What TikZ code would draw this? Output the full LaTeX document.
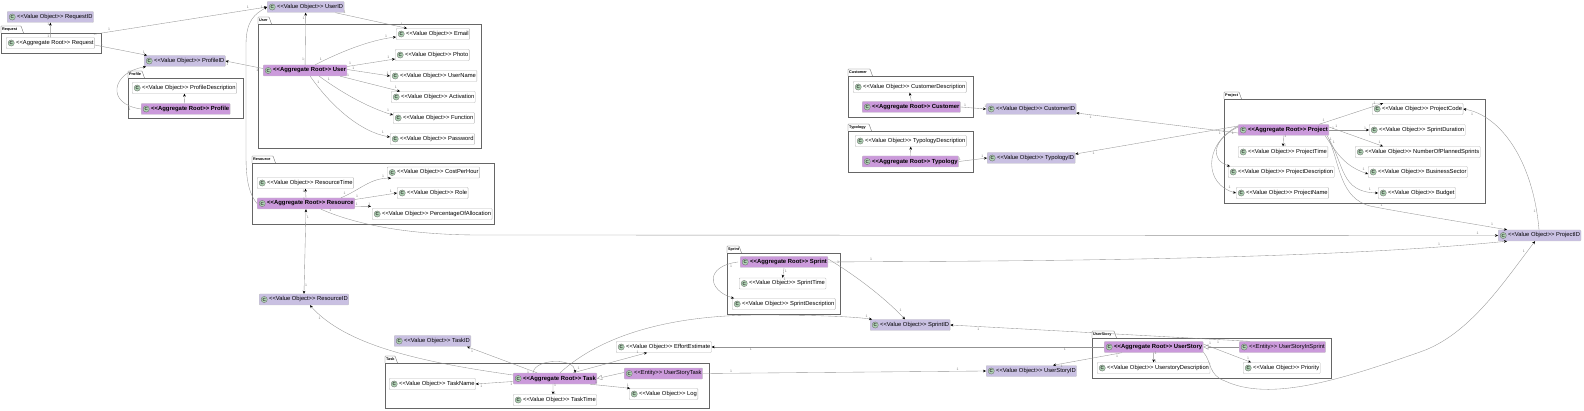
\documentclass[tikz,border=0pt]{standalone}
\usepackage{fontspec}
\setmainfont{Liberation Sans}
\usetikzlibrary{arrows.meta}

\definecolor{idfill}{HTML}{C9C0E2}
\definecolor{rootfill}{HTML}{CB9ADB}
\definecolor{iconfill}{HTML}{ADD1B2}

\newcommand{\valobj}{\hspace*{9pt}<{}<Value Object>{}>}
\newcommand{\aggroot}{\hspace*{9pt}<{}<Aggregate Root>{}>}
\newcommand{\entity}{\hspace*{9pt}<{}<Entity>{}>}

\tikzset{
  cbox/.style={anchor=west,rounded corners=0.8pt,inner xsep=1pt,inner ysep=0pt,
    minimum height=11pt,font=\fontsize{5.8}{7}\selectfont,
    path picture={
      \fill[iconfill,draw=gray!80!black,line width=.3pt]
        ([xshift=5pt]path picture bounding box.west) circle (3.1pt);
      \node[anchor=center,inner sep=0pt,
        font=\fontsize{4.5}{5}\bfseries\selectfont,text=black!80]
        at ([xshift=5pt]path picture bounding box.west) {C};
    }},
  valuebox/.style={cbox,draw=gray!55,fill=white},
  idbox/.style={cbox,draw=gray!45,fill=idfill},
  rootbox/.style={cbox,draw=gray!45,fill=rootfill,font=\fontsize{5.9}{7}\bfseries\selectfont},
  entitybox/.style={cbox,draw=gray!45,fill=rootfill},
  pkg/.style={draw=black!60,line width=.5pt},
  pkgname/.style={anchor=west,inner sep=0pt,font=\fontsize{3.8}{4}\bfseries\selectfont},
  link/.style={draw=gray!85,line width=.35pt,-{Stealth[length=3pt,width=2.6pt,black]}},
  extends/.style={draw=gray!85,line width=.35pt,-{Triangle[open,length=5pt,width=5pt,fill=white]}},
  one/.style={auto,inner sep=.8pt,font=\fontsize{3.5}{4}\selectfont,text=gray},
  ea/.style={one,pos=.1},
  eb/.style={one,pos=.9}
}

\begin{document}
\begin{tikzpicture}[x=1pt,y=-1pt]
\useasboundingbox (0,0) rectangle (1584,411);

% Packages
\foreach \nm/\xa/\ya/\xb/\yb/\tw in {
  Request/1/33/101/53/20, Profile/128/78/243/118/14, User/258/24/481/148/11,
  Resource/252/163/494/224/21, Task/385/363/709/408/10, Sprint/727/253/840/314/12,
  Customer/848/76/973/117/22, Typology/848/131/973/172/21, Project/1224/99/1485/203/15,
  UserStory/1092/338/1331/378/22}
{
  \draw[pkg] (\xa,\ya) rectangle (\xb,\yb);
  \draw[pkg,line width=.35pt,rounded corners=.5pt] (\xa,\ya) -- ++(0,-7) -- ++(\tw,0) -- ++(2.5,7);
  \node[pkgname] (tab\nm) at ({\xa+1},{\ya-3.4}) {\nm};
}

% Request and Profile
\node[idbox] (requestid) at (7,17) {\valobj{} RequestID};
\node[valuebox] (request) at (6,43) {\aggroot{} Request};
\node[idbox] (profileid) at (144,61) {\valobj{} ProfileID};
\node[valuebox] (profiledesc) at (132,88) {\valobj{} ProfileDescription};
\node[rootbox] (profile) at (141,109) {\aggroot{} Profile};

% User
\node[idbox] (userid) at (267,7) {\valobj{} UserID};
\node[rootbox] (user) at (263,70.5) {\aggroot{} User};
\node[valuebox] (email) at (396,34) {\valobj{} Email};
\node[valuebox] (photo) at (395,55) {\valobj{} Photo};
\node[valuebox] (username) at (390,76) {\valobj{} UserName};
\node[valuebox] (activation) at (391,97) {\valobj{} Activation};
\node[valuebox] (function) at (393,118) {\valobj{} Function};
\node[valuebox] (password) at (390,139) {\valobj{} Password};

% Resource
\node[valuebox] (costperhour) at (387,172.5) {\valobj{} CostPerHour};
\node[valuebox] (resourcetime) at (257,183) {\valobj{} ResourceTime};
\node[valuebox] (role) at (397,193) {\valobj{} Role};
\node[rootbox] (resource) at (257,203.5) {\aggroot{} Resource};
\node[valuebox] (percentage) at (372,214) {\valobj{} PercentageOfAllocation};
\node[idbox] (resourceid) at (259,299.5) {\valobj{} ResourceID};

% Task
\node[idbox] (taskid) at (394,341) {\valobj{} TaskID};
\node[valuebox] (effort) at (616,347) {\valobj{} EffortEstimate};
\node[rootbox] (task) at (513,378.5) {\aggroot{} Task};
\node[entitybox] (storytask) at (624,373.5) {\entity{} UserStoryTask};
\node[valuebox] (taskname) at (389,384) {\valobj{} TaskName};
\node[valuebox] (tasktime) at (513,400) {\valobj{} TaskTime};
\node[valuebox] (log) at (629,394) {\valobj{} Log};

% Sprint
\node[rootbox] (sprint) at (740,262) {\aggroot{} Sprint};
\node[valuebox] (sprinttime) at (739,283.5) {\valobj{} SprintTime};
\node[valuebox] (sprintdesc) at (732,304) {\valobj{} SprintDescription};
\node[idbox] (sprintid) at (870,325) {\valobj{} SprintID};

% Customer and Typology
\node[valuebox] (customerdesc) at (853,87) {\valobj{} CustomerDescription};
\node[rootbox] (customer) at (862,107) {\aggroot{} Customer};
\node[idbox] (customerid) at (986,109) {\valobj{} CustomerID};
\node[valuebox] (typologydesc) at (855,141) {\valobj{} TypologyDescription};
\node[rootbox] (typology) at (862,161.5) {\aggroot{} Typology};
\node[idbox] (typologyid) at (987,158) {\valobj{} TypologyID};

% Project
\node[valuebox] (projectcode) at (1372,109) {\valobj{} ProjectCode};
\node[rootbox] (project) at (1238,130) {\aggroot{} Project};
\node[valuebox] (duration) at (1369,130) {\valobj{} SprintDuration};
\node[valuebox] (projecttime) at (1238,152) {\valobj{} ProjectTime};
\node[valuebox] (planned) at (1355,152) {\valobj{} NumberOfPlannedSprints};
\node[valuebox] (projectdesc) at (1228,172) {\valobj{} ProjectDescription};
\node[valuebox] (sector) at (1368,172) {\valobj{} BusinessSector};
\node[valuebox] (projectname) at (1236,193) {\valobj{} ProjectName};
\node[valuebox] (budget) at (1378,193) {\valobj{} Budget};
\node[idbox] (projectid) at (1498,235.5) {\valobj{} ProjectID};

% UserStory
\node[rootbox] (story) at (1104,347) {\aggroot{} UserStory};
\node[entitybox] (storysprint) at (1239,347) {\entity{} UserStoryInSprint};
\node[valuebox] (storydesc) at (1097,368) {\valobj{} UserstoryDescription};
\node[valuebox] (priority) at (1243,368) {\valobj{} Priority};
\node[idbox] (storyid) at (986,371) {\valobj{} UserStoryID};

% Request and Profile links
\draw[link] (request.north) -- node[ea]{1} node[eb]{1} (requestid.south);
\draw[link] ([xshift=-1pt,yshift=3pt]request.north east) -- node[ea]{1} node[eb]{1} (userid.west);
\draw[link] ([yshift=-2pt]request.east) -- node[ea]{1} node[eb]{1} ([xshift=3pt]profileid.north west);
\draw[link] (profile.west) .. controls (105,104) and (112,72) .. node[ea]{1} ([xshift=2pt]profileid.south west);
\draw[link] ([xshift=-1pt]profile.north) -- (profiledesc.south);

% User links
\draw[link] ([yshift=2pt]user.west) -- node[ea]{1} node[eb]{1} (profileid.east);
\draw[link] (user.north) -- node[ea]{1} node[eb]{1} (userid.south);
\draw[link] ([xshift=-9pt]userid.south east) -- node[ea]{1} node[eb]{1} ([xshift=11pt]email.north west);
\draw[link] ([xshift=-32pt]user.north east) .. controls (340,52) and (370,40) .. node[ea]{1} node[eb]{1} ([yshift=-3pt]email.west);
\draw[link] ([yshift=4pt]user.east) -- node[ea]{1} node[eb]{1} ([yshift=-4pt]photo.west);
\draw[link] ([yshift=1pt]user.east) -- node[ea]{1} node[eb]{1} (username.west);
\draw[link] ([xshift=-7pt]user.south east) -- node[ea]{1} node[eb]{1} ([xshift=9pt]activation.north west);
\draw[link] ([xshift=-28pt]user.south east) .. controls (345,95) and (370,108) .. node[ea]{1} node[eb]{1} ([yshift=3pt]function.west);
\draw[link] ([xshift=-37pt]user.south east) .. controls (330,105) and (360,132) .. node[ea]{1} node[eb]{1} ([yshift=2pt]password.west);

% Resource links
\draw[link] (resource.west) .. controls (246,190) and (246,170) .. (246,150) -- (246,45)
  .. controls (246,20) and (255,14) .. node[eb]{1} (userid.west);
\draw[link] (resource.north) -- node[ea]{1} node[eb]{1} (resourcetime.south);
\draw[link] ([xshift=-14pt]resource.north east) .. controls (360,190) and (370,178) .. node[ea]{1} node[eb]{1} ([xshift=4pt]costperhour.south west);
\draw[link] ([yshift=4pt]resource.east) -- node[ea]{1} node[eb]{1} (role.west);
\draw[link] ([yshift=-3pt]resource.east) -- node[ea]{1} node[eb]{1} ([yshift=2pt,xshift=-1pt]percentage.north west);
\draw[link,{Stealth[length=3pt,width=2.6pt,black]}-{Stealth[length=3pt,width=2.6pt,black]}] (resource.south) -- node[ea]{1} node[eb]{1} (resourceid.north);
\draw[link] ([xshift=-34pt]resource.south east) .. controls (350,222) and (400,235) .. node[one,pos=.08]{1} (480,235) -- node[one,pos=.98]{1} (projectid.west);

% Task links
\draw[link] ([yshift=3.5pt]task.west) .. controls (420,362) and (345,345) .. node[eb]{1} ([xshift=6pt]resourceid.south);
\draw[link] ([xshift=24pt]task.north west) -- node[ea]{1} node[eb]{1} ([xshift=-4pt]taskid.south east);
\draw[link] ([xshift=-24pt]task.north east) -- node[ea]{1} node[eb]{1} ([xshift=31pt]effort.south west);
\draw[link] ([xshift=20pt]task.north west) .. controls (535,358) and (575,358) .. ([xshift=-22pt]task.north east);
\draw[link] ([xshift=-37pt]task.north east) .. controls (590,345) and (650,315) .. (760,315) .. controls (800,315) and (850,316) .. node[eb]{1} ([xshift=2pt]sprintid.north west);
\draw[link] ([yshift=-3pt]task.west) -- node[ea]{1} node[eb]{1} (taskname.east);
\draw[link] ([xshift=-2pt]task.south) -- node[ea]{1} node[eb]{1} ([xshift=-2pt]tasktime.north);
\draw[link] ([xshift=-7pt]task.south east) -- node[ea]{1} node[eb]{1} ([xshift=1pt]log.north west);
\draw[extends] ([yshift=1pt]storytask.west) -- (task.east);
\draw[link] (storytask.east) -- node[ea]{1} node[eb]{1} (storyid.west);

% Sprint links
\draw[link] (sprint.south) -- node[ea]{1} node[eb]{1} (sprinttime.north);
\draw[link] ([xshift=-2pt]sprint.west) .. controls (705,266) and (707,290) .. node[ea]{1} ([xshift=2pt]sprintdesc.north west);
\draw[link] (sprint.east) .. controls (950,261) and (1300,262) .. node[ea]{1} node[eb]{1} ([xshift=9pt,yshift=0pt]projectid.south west);
\draw[link] ([yshift=3pt]sprint.east) .. controls (855,275) and (885,298) .. node[ea]{1} node[eb]{1} ([xshift=35pt]sprintid.north west);

% Customer and Typology links
\draw[link] (customer.east) -- node[ea]{1} node[eb]{1} (customerid.west);
\draw[link] (customer.north) -- (customerdesc.south);
\draw[link] (typology.east) -- node[ea]{1} node[eb]{1} (typologyid.west);
\draw[link] (typology.north) -- (typologydesc.south);

% Project links
\draw[link] ([yshift=-3pt]project.west) -- node[ea]{1} node[eb]{1} ([yshift=-4pt]customerid.east);
\draw[link] ([yshift=4pt]project.west) -- node[ea]{1} node[eb]{1} ([yshift=4pt]typologyid.east);
\draw[link] ([xshift=-10pt]project.north east) -- node[ea]{1} node[eb]{1} ([xshift=11pt]projectcode.north west);
\draw[link] (project.east) -- node[ea]{1} node[eb]{1} (duration.west);
\draw[link] ([yshift=3pt]project.east) -- node[ea]{1} node[eb]{1} ([xshift=28pt]planned.north west);
\draw[link] ([xshift=-4pt]project.south east) .. controls (1338,155) and (1345,166) .. node[ea]{1} node[eb]{1} ([yshift=-2pt]sector.west);
\draw[link] ([xshift=-2pt]project.south east) .. controls (1345,165) and (1340,192) .. node[ea]{1} node[eb]{1} (budget.west);
\draw[link] (project.south) -- node[ea]{1} node[eb]{1} (projecttime.north);
\draw[link] ([yshift=3pt]project.west) .. controls (1212,140) and (1210,160) .. node[ea]{1} ([xshift=2pt]projectdesc.north west);
\draw[link] ([yshift=4pt]project.west) .. controls (1202,145) and (1205,185) .. node[eb]{1} (projectname.west);
\draw[link] ([yshift=-4pt]project.south east) .. controls (1340,165) and (1340,198) .. (1370,206) .. controls (1400,212) and (1450,220) .. node[ea]{1} node[eb]{1} ([xshift=9pt]projectid.north west);
\draw[link] ([xshift=41pt]projectid.north west) .. controls (1533,160) and (1500,115) .. node[ea]{1} node[eb]{1} (projectcode.east);

% UserStory links
\draw[link] (story.west) -- node[ea]{1} node[eb]{1} (effort.east);
\draw[extends] (storysprint.west) -- (story.east);
\draw[link] ([xshift=11pt]storysprint.north west) -- node[ea]{1} node[eb]{1} (sprintid.east);
\draw[link] ([xshift=18pt]story.south west) -- node[ea]{1} node[eb]{1} ([xshift=67pt]storyid.north west);
\draw[link] (story.south) -- node[ea]{1} node[eb]{1} (storydesc.north);
\draw[link] ([yshift=3pt]story.east) -- node[ea]{1} node[eb]{1} ([xshift=8pt]priority.north west);
\draw[link] ([yshift=-5pt]story.east) .. controls (1212,362) and (1208,375) .. (1225,381)
  .. controls (1270,402) and (1340,380) .. (1420,352) .. controls (1470,335) and (1505,280) .. node[eb]{1} ([xshift=37pt]projectid.south west);
\end{tikzpicture}
\end{document}
